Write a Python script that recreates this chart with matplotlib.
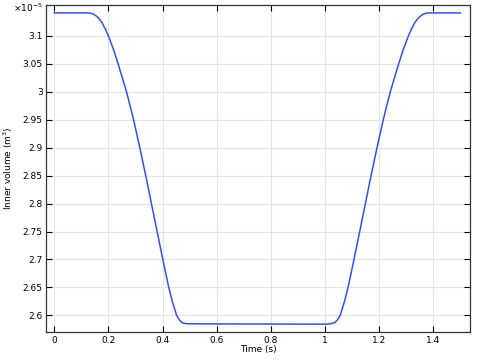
import matplotlib
matplotlib.use("Agg")
import matplotlib.pyplot as plt
from matplotlib.ticker import FuncFormatter

# time (s) and inner volume (1e-5 m^3)
t = [0.0, 0.12, 0.13, 0.142, 0.154, 0.165, 0.176, 0.188, 0.20, 0.218, 0.236,
     0.267, 0.293, 0.316, 0.338, 0.359, 0.38, 0.401, 0.423, 0.436, 0.452,
     0.462, 0.472, 0.483, 0.495, 0.6, 0.8, 0.95, 1.0, 1.013, 1.025, 1.036,
     1.046, 1.056, 1.072, 1.085, 1.107, 1.128, 1.149, 1.17, 1.192, 1.215,
     1.241, 1.272, 1.29, 1.308, 1.32, 1.332, 1.343, 1.354, 1.366, 1.378,
     1.388, 1.5]
vol = [3.141, 3.141, 3.1408, 3.1395, 3.136, 3.131, 3.124, 3.113, 3.100, 3.077,
       3.050, 3.000, 2.950, 2.900, 2.850, 2.800, 2.750, 2.700, 2.650, 2.625,
       2.600, 2.592, 2.587, 2.5855, 2.585, 2.5847, 2.5845, 2.5843, 2.5843,
       2.5846, 2.5855, 2.587, 2.592, 2.600, 2.625, 2.650, 2.700, 2.750, 2.800,
       2.850, 2.900, 2.950, 3.000, 3.050, 3.077, 3.100, 3.113, 3.124, 3.131,
       3.136, 3.1395, 3.1408, 3.141, 3.141]

xticks = [0, 0.2, 0.4, 0.6, 0.8, 1.0, 1.2, 1.4]
yticks = [2.6, 2.65, 2.7, 2.75, 2.8, 2.85, 2.9, 2.95, 3.0, 3.05, 3.1]

fig = plt.figure(figsize=(4.8, 3.63), dpi=100)
ax = fig.add_axes([0.096, 0.085, 0.883, 0.901])
ax.plot(t, vol, color='#3050ff', linewidth=1.1)

ax.set_xlim(-0.03, 1.535)
ax.set_ylim(2.570, 3.155)
ax.set_xticks(xticks)
ax.set_yticks(yticks)
fmt = FuncFormatter(lambda v, p: '%g' % round(v, 3))
ax.xaxis.set_major_formatter(fmt)
ax.yaxis.set_major_formatter(fmt)
ax.tick_params(direction='in', top=True, right=True, labelsize=6.5,
               length=4, width=0.8, pad=2.5)
ax.grid(color='#e4e4e4', linewidth=0.8)
ax.set_axisbelow(True)
for s in ax.spines.values():
    s.set_linewidth(0.9)
    s.set_color('#333333')

ax.set_xlabel('Time (s)', fontsize=6.5, labelpad=0)
ax.set_ylabel('Inner volume (m$^3$)', fontsize=6.5, va='center')
ax.yaxis.set_label_coords(-0.09, 0.5)
ax.text(-0.079, 0.991, '\u00d710$^{-5}$', transform=ax.transAxes, fontsize=6.5,
        va='center', ha='left')

fig.savefig('out.png', dpi=100)
